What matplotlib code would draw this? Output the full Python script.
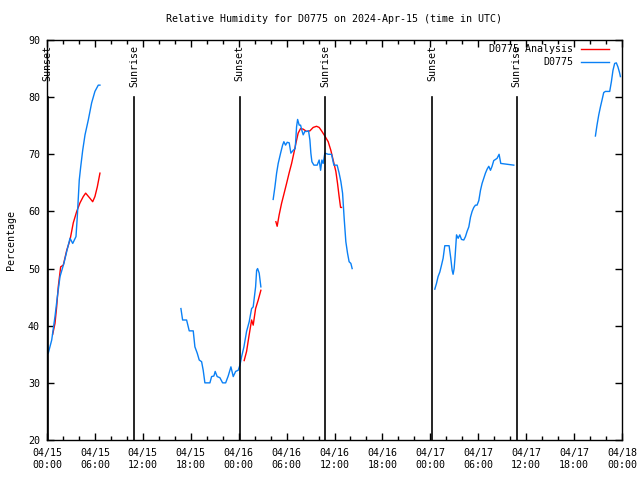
import numpy as np
import matplotlib
matplotlib.use('Agg')
import matplotlib.pyplot as plt
import matplotlib.dates as mdates

# hours after 2024-04-15 00:00 UTC, relative humidity in %
obs_hours = [
    [0.16, 0.59, 1.0, 1.29, 1.63, 2.13, 2.47, 2.88, 3.22, 3.63, 3.79, 4.04, 4.22,
     4.47, 4.76, 5.17, 5.59, 6.0, 6.42, 6.63],
    [16.77, 16.98, 17.48, 17.81, 18.31, 18.52, 18.81, 19.06, 19.36, 19.56, 19.77,
     20.4, 20.61, 20.9, 21.06, 21.31, 21.65, 21.99, 22.37, 22.69, 23.03, 23.32,
     23.62, 23.94, 24.16, 24.37, 24.66, 24.99, 25.32, 25.62, 25.82, 26.12, 26.25,
     26.37, 26.57, 26.78],
    [28.32, 28.54, 28.75, 28.95, 29.25, 29.5, 29.66, 29.87, 30.08, 30.33, 30.54,
     30.83, 31.08, 31.25, 31.38, 31.58, 31.75, 31.91, 32.08, 32.29, 32.5, 32.75,
     32.92, 33.04, 33.17, 33.42, 33.83, 34.08, 34.26, 34.42, 34.58, 34.79, 35.21,
     35.63, 35.92, 36.33, 36.58, 36.8, 37.01, 37.21, 37.42, 37.63, 37.83, 38.05,
     38.21],
    [48.56, 48.77, 48.97, 49.19, 49.4, 49.6, 49.81, 50.35, 50.56, 50.73, 50.85,
     50.98, 51.1, 51.28, 51.48, 51.69, 51.9, 52.19, 52.4, 52.6, 52.82, 53.03,
     53.23, 53.44, 53.65, 53.85, 54.07, 54.28, 54.48, 54.69, 54.9, 55.11, 55.32,
     55.53, 55.73, 55.94, 56.16, 56.36, 56.61, 56.82, 58.45],
    [68.67, 68.87, 69.09, 69.3, 69.5, 69.71, 69.92, 70.46, 70.67, 70.87, 71.08,
     71.29, 71.49, 71.71, 71.8],
]
obs_rh = [
    [35.2, 37.5, 41.6, 45.0, 48.6, 51.0, 53.0, 55.3, 54.4, 55.6, 59.0, 65.5, 67.8,
     70.7, 73.4, 76.0, 79.0, 81.0, 82.1, 82.1],
    [43.0, 41.0, 41.0, 39.1, 39.1, 36.3, 35.2, 34.0, 33.7, 32.2, 30.0, 30.0, 31.1,
     31.2, 32.0, 31.1, 30.9, 30.0, 30.0, 31.2, 32.8, 31.1, 32.0, 32.2, 33.1, 34.6,
     36.3, 39.0, 40.7, 43.0, 43.3, 46.8, 49.7, 50.0, 49.2, 46.8],
    [62.1, 64.3, 66.7, 68.4, 70.2, 71.6, 72.2, 71.6, 72.1, 72.0, 70.2, 70.7, 71.0,
     74.8, 76.1, 75.1, 75.1, 74.2, 73.4, 74.0, 74.0, 74.1, 72.5, 70.2, 68.7, 68.1,
     68.1, 69.0, 67.2, 69.0, 68.4, 70.2, 70.0, 70.0, 68.1, 68.1, 66.7, 65.2, 63.2,
     58.8, 54.7, 52.7, 51.2, 50.9, 50.0],
    [46.4, 47.4, 48.6, 49.4, 50.6, 51.8, 54.0, 54.0, 51.8, 49.7, 49.0, 50.0, 52.1,
     55.9, 55.3, 55.9, 55.1, 55.0, 55.6, 56.5, 57.3, 59.0, 60.0, 60.7, 61.1, 61.1,
     61.9, 63.7, 64.9, 65.8, 66.7, 67.4, 67.9, 67.2, 67.9, 68.9, 69.1, 69.3, 70.0,
     68.4, 68.1],
    [73.2, 75.1, 76.9, 78.3, 79.5, 80.8, 81.0, 81.0, 82.7, 84.7, 85.9, 86.0, 85.3,
     84.2, 83.6],
]

ana_hours = [
    [0.71, 1.0, 1.21, 1.41, 1.71, 2.04, 2.47, 2.88, 3.29, 3.72, 4.13, 4.54, 4.84,
     5.38, 5.72, 6.0, 6.3, 6.63],
    [24.69, 24.99, 25.28, 25.62, 25.82, 26.12, 26.45, 26.78],
    [28.66, 28.82, 29.07, 29.37, 29.66, 30.0, 30.33, 30.63, 30.91, 31.16, 31.45,
     31.75, 32.08, 32.5, 32.92, 33.33, 33.75, 34.08, 34.38, 34.79, 35.21, 35.54,
     35.83, 36.17, 36.38, 36.58, 36.76, 36.88],
]
ana_rh = [
    [38.5, 40.4, 43.3, 46.8, 50.3, 50.6, 53.2, 55.0, 58.0, 60.0, 61.5, 62.6, 63.2,
     62.3, 61.7, 62.6, 64.3, 66.7],
    [33.9, 35.5, 38.1, 41.0, 40.1, 43.0, 44.5, 46.2],
    [58.2, 57.4, 59.4, 61.4, 63.0, 64.9, 66.8, 68.4, 70.2, 71.9, 73.7, 74.5, 74.4,
     74.0, 74.1, 74.7, 74.9, 74.7, 74.1, 73.2, 72.2, 70.7, 69.0, 67.0, 64.9, 62.6,
     60.7, 60.7],
]

sun_hours = [0.1, 10.9, 24.15, 34.8, 48.2, 58.8]
sun_labels = ['Sunset', 'Sunrise', 'Sunset', 'Sunrise', 'Sunset', 'Sunrise']

base = np.datetime64('2024-04-15T00:00')

def to_time(h):
    return base + (np.array(h) * 3600).astype('timedelta64[s]')

plt.rcParams['font.family'] = 'DejaVu Sans Mono'
plt.rcParams['font.size'] = 7.2

fig = plt.figure(figsize=(6.4, 4.8), dpi=100)
ax = fig.add_axes([47 / 640, 40 / 480, 575 / 640, 400 / 480])

red = '#ff0000'
blue = '#0a80f5'

for h, v in zip(ana_hours, ana_rh):
    ax.plot(to_time(h), v, color=red, lw=1)
for h, v in zip(obs_hours, obs_rh):
    ax.plot(to_time(h), v, color=blue, lw=1)

# sunrise / sunset markers
for h, lab in zip(sun_hours, sun_labels):
    t = to_time([h])[0]
    ax.plot([t, t], [20, 80], color='black', lw=1.2)
    ax.text(t, 89.2, lab, rotation=90, ha='center', va='top')

ax.set_xlim(to_time([0])[0], to_time([72])[0])
ax.set_ylim(20, 90)
ax.set_yticks(range(20, 91, 10))

ax.xaxis.set_major_locator(mdates.HourLocator(byhour=range(0, 24, 6)))
ax.xaxis.set_minor_locator(mdates.HourLocator(byhour=range(0, 24, 2)))
ax.xaxis.set_major_formatter(mdates.DateFormatter('%m/%d\n%H:%M'))
ax.tick_params(which='both', direction='in', top=True, right=True, width=1)
ax.tick_params(which='major', length=5, pad=5)
ax.tick_params(which='minor', length=3)
ax.tick_params(axis='x', pad=6)
for s in ax.spines.values():
    s.set_linewidth(1)

# legend drawn by hand so the labels are right aligned
ax.text(0.915, 0.9775, 'D0775 Analysis', transform=ax.transAxes, ha='right', va='center')
ax.plot([0.929, 0.977], [0.9775, 0.9775], transform=ax.transAxes, color=red, lw=1)
ax.text(0.915, 0.945, 'D0775', transform=ax.transAxes, ha='right', va='center')
ax.plot([0.929, 0.977], [0.945, 0.945], transform=ax.transAxes, color=blue, lw=1)

fig.text(334 / 640, 1 - 19 / 480, 'Relative Humidity for D0775 on 2024-Apr-15 (time in UTC)',
         ha='center', va='center')
fig.text(11 / 640, 0.5, 'Percentage', rotation=90, ha='center', va='center')

plt.savefig('out.png', dpi=100)
